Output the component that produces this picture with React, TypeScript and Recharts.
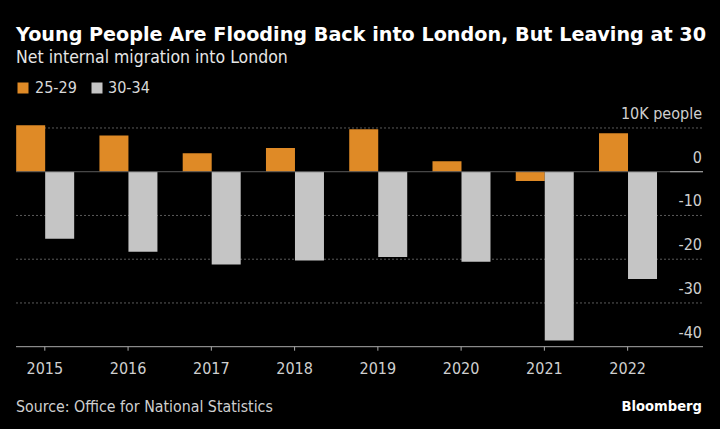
import React from "react";
import { BarChart, Bar, XAxis, YAxis, CartesianGrid, ReferenceLine } from "recharts";

const years = [2015, 2016, 2017, 2018, 2019, 2020, 2021, 2022];
const age2529 = [10.6, 8.3, 4.2, 5.4, 9.7, 2.4, -2.1, 8.8];
const age3034 = [-15.3, -18.3, -21.2, -20.3, -19.5, -20.6, -38.6, -24.5];
const yTicks = [-40, -30, -20, -10, 0, 10];
const yTickLabels = ["-40", "-30", "-20", "-10", "0", "10K people"];
const yDomain = [-40, 11];
const dottedGridValues = [-30, -20, -10, 10];

const data = years.map((year, i) => ({ year, a: age2529[i], b: age3034[i] }));

const ORANGE = "#df8a26";
const GRAY = "#c5c5c5";
const COND = "'DejaVu Sans Condensed', 'DejaVu Sans', sans-serif";

const XTick = (props: any) => {
  const { x, y, payload } = props;
  return (
    <text x={x} y={y} dy={23.6} textAnchor="middle" fill="#cfcfcf" fontFamily={COND} fontSize={16}>
      {payload.value}
    </text>
  );
};

const YTick = (props: any) => {
  const { x, y, payload } = props;
  const idx = yTicks.indexOf(payload.value);
  return (
    <text x={x - 1} y={y - 9} textAnchor="end" fill="#cfcfcf" fontFamily={COND} fontSize={16}>
      {idx >= 0 ? yTickLabels[idx] : ""}
    </text>
  );
};

const gridGen = (args: any) => {
  const s = args && args.yAxis ? args.yAxis.scale : undefined;
  if (typeof s === "function") return dottedGridValues.map((v) => s(v));
  if (s && typeof s.map === "function") return dottedGridValues.map((v) => s.map(v));
  const off = args.offset;
  return dottedGridValues.map(
    (v) => off.top + ((yDomain[1] - v) / (yDomain[1] - yDomain[0])) * off.height
  );
};

export default function App() {
  return (
    <div style={{ position: "absolute", left: 0, top: 0, width: 720, height: 429, background: "#000", overflow: "hidden" }}>
      <svg width={720} height={429} style={{ position: "absolute", left: 0, top: 0 }}>
        <text x={16} y={40.5} fill="#ffffff" fontFamily="'DejaVu Sans', sans-serif" fontWeight="bold" fontSize={19.2}>
          Young People Are Flooding Back into London, But Leaving at 30
        </text>
        <text x={16} y={62.7} fill="#e6e6e6" fontFamily={COND} fontSize={17.5}>
          Net internal migration into London
        </text>
        <rect x={17.5} y={82.5} width={11} height={11} fill={ORANGE} />
        <text x={35} y={93.3} fill="#d9d9d9" fontFamily={COND} fontSize={16}>25-29</text>
        <rect x={91.5} y={82.5} width={11} height={11} fill={GRAY} />
        <text x={108} y={93.3} fill="#d9d9d9" fontFamily={COND} fontSize={16}>30-34</text>
        <text x={16} y={411.5} fill="#cfcfcf" fontFamily={COND} fontSize={15.8}>
          Source: Office for National Statistics
        </text>
        <text x={702} y={410.7} textAnchor="end" fill="#ffffff" fontFamily={COND} fontWeight="bold" fontSize={14.6}>
          Bloomberg
        </text>
      </svg>
      <div style={{ position: "absolute", left: 0, top: 0 }}>
        <BarChart
          width={720}
          height={429}
          data={data}
          margin={{ top: 123.6, right: 17, bottom: 52.3, left: 16 }}
          barGap={0}
        >
          <CartesianGrid
            horizontal
            vertical={false}
            stroke="#5a5a5a"
            strokeDasharray="2 2"
            horizontalCoordinatesGenerator={gridGen}
          />
          <XAxis
            type="number"
            dataKey="year"
            domain={[2014.654, 2022.905]}
            allowDataOverflow
            ticks={years}
            interval={0}
            height={30}
            tickSize={4}
            tickMargin={0}
            axisLine={{ stroke: "#aaaaaa", strokeWidth: 1 }}
            tickLine={{ stroke: "#aaaaaa", strokeWidth: 1 }}
            tick={<XTick />}
          />
          <YAxis
            type="number"
            orientation="right"
            mirror
            width={80}
            domain={yDomain}
            allowDataOverflow
            ticks={yTicks}
            interval={0}
            axisLine={false}
            tickLine={false}
            tickSize={0}
            tickMargin={0}
            tick={<YTick />}
          />
          <ReferenceLine y={0} stroke="#5a5a5a" strokeWidth={1} />
          <ReferenceLine
            segment={[{ x: 2022.51, y: 0 }, { x: 2022.905, y: 0 }]}
            stroke="#aaaaaa"
            strokeWidth={1}
          />
          <Bar dataKey="a" fill={ORANGE} barSize={29} isAnimationActive={false} />
          <Bar dataKey="b" fill={GRAY} barSize={29} isAnimationActive={false} />
        </BarChart>
      </div>
    </div>
  );
}
